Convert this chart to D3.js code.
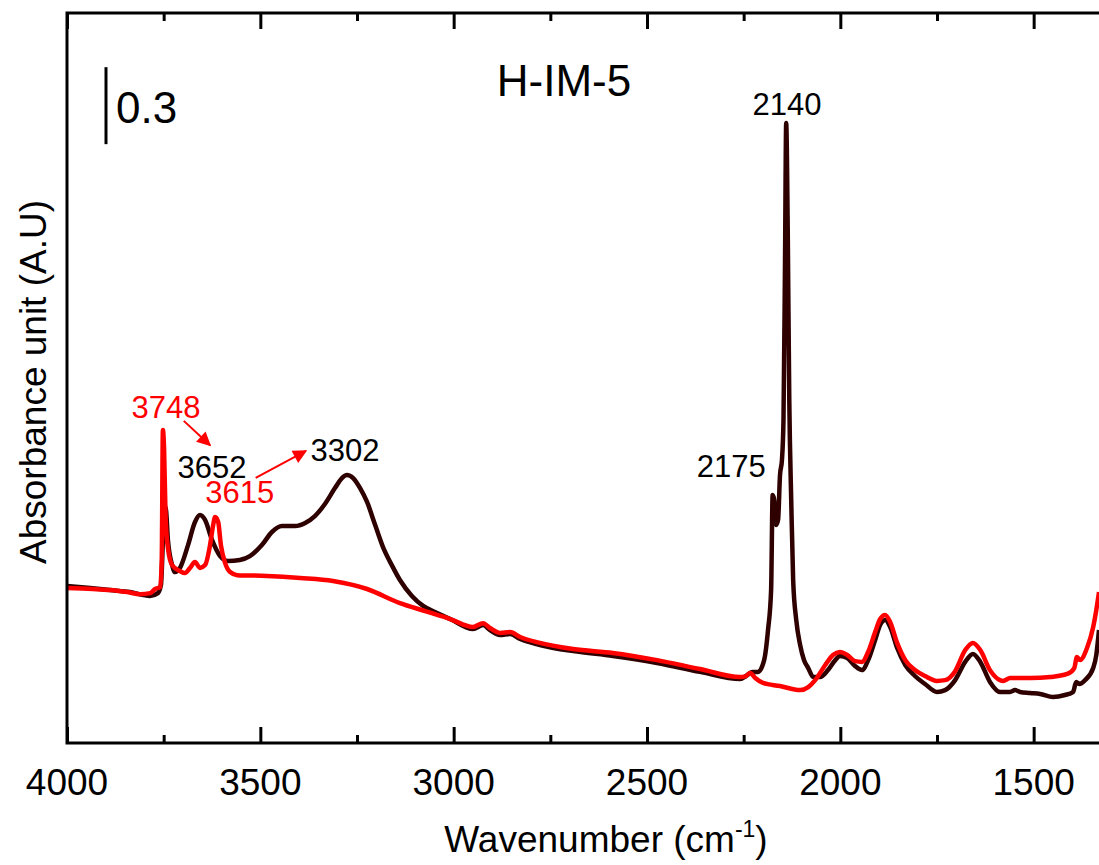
<!DOCTYPE html>
<html>
<head>
<meta charset="utf-8">
<script src="https://cdn.jsdelivr.net/npm/d3@7"></script>
<style>
  html, body { margin: 0; padding: 0; background: #fff; }
  svg { display: block; font-family: "Liberation Sans", Arial, sans-serif; }
</style>
</head>
<body>
<div id="chart"></div>
<script>
const width = 1099;
const height = 865;

// spectrum after CO adsorption (dark) — wavenumber (cm-1) / absorbance
const darkWn = [4000, 3940, 3889, 3837, 3785, 3765, 3757, 3752, 3749, 3744, 3739, 3728, 3721, 3708, 3687, 3669, 3656, 3643, 3625, 3604,
  3584, 3553, 3527, 3496, 3470, 3444, 3410, 3384, 3359, 3333, 3307, 3289, 3276, 3260, 3242, 3224, 3203, 3183, 3159, 3139,
  3108, 3079, 3043, 3009, 2950, 2924, 2906, 2880, 2854, 2828, 2777, 2691, 2588, 2474, 2363, 2259, 2244, 2228, 2213, 2197,
  2187, 2179, 2175, 2171, 2166, 2161, 2156, 2151, 2147, 2143, 2140, 2136, 2132, 2127, 2122, 2114, 2104, 2094, 2083, 2070,
  2052, 2032, 2013, 2001, 1982, 1962, 1944, 1928, 1910, 1897, 1884, 1871, 1853, 1832, 1807, 1781, 1750, 1729, 1703, 1677,
  1657, 1638, 1613, 1587, 1561, 1548, 1535, 1509, 1483, 1450, 1419, 1398, 1390, 1382, 1367, 1346, 1338, 1331];
const darkAbs = [0.612, 0.604, 0.596, 0.588, 0.573, 0.584, 0.616, 0.791, 0.927, 0.908, 0.791, 0.693, 0.666, 0.682, 0.771, 0.861, 0.888, 0.869, 0.791, 0.728,
  0.709, 0.713, 0.728, 0.771, 0.822, 0.845, 0.845, 0.857, 0.884, 0.931, 0.993, 1.032, 1.044, 1.032, 0.993, 0.939, 0.849, 0.764, 0.690, 0.635,
  0.573, 0.534, 0.506, 0.483, 0.444, 0.460, 0.440, 0.421, 0.425, 0.405, 0.382, 0.358, 0.339, 0.312, 0.277, 0.249, 0.261, 0.277, 0.277, 0.323,
  0.440, 0.596, 0.966, 0.947, 0.849, 0.869, 1.044, 1.102, 1.258, 1.882, 2.415, 1.998, 1.336, 0.947, 0.635, 0.479, 0.382, 0.323, 0.292, 0.257,
  0.257, 0.284, 0.323, 0.339, 0.331, 0.300, 0.284, 0.323, 0.401, 0.460, 0.479, 0.452, 0.370, 0.304, 0.261, 0.230, 0.199, 0.206, 0.245, 0.316,
  0.347, 0.316, 0.238, 0.199, 0.199, 0.206, 0.199, 0.195, 0.191, 0.179, 0.187, 0.199, 0.238, 0.230, 0.245, 0.292, 0.343, 0.440];

// activated sample (red)
const redWn = [4000, 3933, 3889, 3845, 3811, 3785, 3772, 3759, 3755, 3752, 3749, 3745, 3739, 3728, 3708, 3695, 3682, 3669, 3656, 3643,
  3630, 3622, 3617, 3609, 3602, 3591, 3578, 3560, 3483, 3397, 3312, 3224, 3139, 3074, 3009, 2950, 2924, 2906, 2880, 2854,
  2828, 2777, 2691, 2588, 2474, 2363, 2259, 2244, 2233, 2220, 2200, 2156, 2104, 2083, 2065, 2039, 2019, 2001, 1982, 1962,
  1944, 1928, 1910, 1897, 1884, 1871, 1853, 1832, 1807, 1781, 1750, 1729, 1703, 1677, 1657, 1638, 1613, 1587, 1579, 1561,
  1509, 1457, 1413, 1395, 1388, 1380, 1362, 1346, 1338, 1331];
const redAbs = [0.604, 0.600, 0.596, 0.588, 0.580, 0.584, 0.600, 0.608, 0.713, 1.219, 1.150, 0.880, 0.760, 0.693, 0.670, 0.662, 0.682, 0.705, 0.682, 0.693,
  0.771, 0.849, 0.880, 0.861, 0.771, 0.701, 0.666, 0.654, 0.651, 0.643, 0.631, 0.600, 0.545, 0.514, 0.483, 0.452, 0.467, 0.448, 0.429, 0.432,
  0.413, 0.390, 0.366, 0.351, 0.323, 0.288, 0.257, 0.261, 0.273, 0.253, 0.234, 0.222, 0.206, 0.218, 0.245, 0.304, 0.343, 0.355, 0.343, 0.319,
  0.316, 0.355, 0.432, 0.483, 0.499, 0.471, 0.390, 0.323, 0.284, 0.261, 0.242, 0.245, 0.280, 0.362, 0.390, 0.362, 0.284, 0.245, 0.242, 0.253,
  0.253, 0.257, 0.269, 0.292, 0.335, 0.323, 0.370, 0.452, 0.518, 0.588];

const majorTicks = [4000, 3500, 3000, 2500, 2000, 1500];
const minorTicks = [3750, 3250, 2750, 2250, 1750];

// peak labels: text, wavenumber anchor, absorbance anchor (baseline), colour
const peakLabels = [
  ["3748", 3744, 1.265, "#ff0000"],
  ["3652", 3625, 1.034, "#000000"],
  ["3615", 3553, 0.935, "#ff0000"],
  ["3302", 3281, 1.097, "#000000"],
  ["2175", 2282, 1.036, "#000000"],
  ["2140", 2138, 2.446, "#000000"]
];
// arrows: from [wn, abs] to [wn, abs]
const arrows = [
  [[3698, 1.255], [3630, 1.160]],
  [[3512, 1.033], [3382, 1.138]]
];

const margin = {left: 67, top: 13, bottom: 743, right: 1099};

const x = d3.scaleLinear().domain([4000, 1331]).range([margin.left, margin.right]);
const y = d3.scaleLinear().domain([0, 2.844]).range([margin.bottom, margin.top]);

const svg = d3.select("#chart").append("svg")
  .attr("width", width)
  .attr("height", height);

svg.append("defs").append("clipPath").attr("id", "plot")
  .append("rect")
  .attr("x", margin.left).attr("y", margin.top)
  .attr("width", margin.right - margin.left).attr("height", margin.bottom - margin.top);

svg.select("defs").append("marker")
  .attr("id", "head")
  .attr("viewBox", "0 0 10 10")
  .attr("refX", 9).attr("refY", 5)
  .attr("markerWidth", 20).attr("markerHeight", 14)
  .attr("markerUnits", "userSpaceOnUse")
  .attr("orient", "auto")
  .append("path")
  .attr("d", "M0,0 L10,5 L0,10 Z")
  .attr("fill", "#ff0000");

const line = d3.line()
  .x(d => x(d[0]))
  .y(d => y(d[1]))
  .curve(d3.curveMonotoneX);

const dark = darkWn.map((w, i) => [w, darkAbs[i]]);
const red = redWn.map((w, i) => [w, redAbs[i]]);

const plot = svg.append("g").attr("clip-path", "url(#plot)");

plot.append("path")
  .datum(dark)
  .attr("fill", "none")
  .attr("stroke", "#2e0000")
  .attr("stroke-width", 4.5)
  .attr("stroke-linejoin", "round")
  .attr("d", line);

plot.append("path")
  .datum(red)
  .attr("fill", "none")
  .attr("stroke", "#ff0000")
  .attr("stroke-width", 4.5)
  .attr("stroke-linejoin", "round")
  .attr("d", line);

// frame: left, top, bottom
svg.append("path")
  .attr("d", `M${margin.right},${margin.top}H${margin.left}V${margin.bottom}H${margin.right}`)
  .attr("fill", "none")
  .attr("stroke", "#000")
  .attr("stroke-width", 3);

// inward ticks on bottom and top
const bottomAxis = d3.axisTop(x).tickValues(majorTicks).tickSize(16).tickFormat("");
const bottomMinor = d3.axisTop(x).tickValues(minorTicks).tickSize(8).tickFormat("");
const topAxis = d3.axisBottom(x).tickValues(majorTicks).tickSize(16).tickFormat("");
const topMinor = d3.axisBottom(x).tickValues(minorTicks).tickSize(8).tickFormat("");

[[bottomAxis, margin.bottom], [bottomMinor, margin.bottom], [topAxis, margin.top], [topMinor, margin.top]].forEach(([ax, ty]) => {
  const g = svg.append("g").attr("transform", `translate(0,${ty})`).call(ax);
  g.select(".domain").remove();
  g.selectAll(".tick line").attr("stroke", "#000").attr("stroke-width", 3);
});

svg.append("g").selectAll("text")
  .data(majorTicks)
  .join("text")
  .attr("x", d => x(d))
  .attr("y", 795)
  .attr("text-anchor", "middle")
  .attr("font-size", 37)
  .attr("fill", "#000")
  .text(d => d);

// axis titles
const xt = svg.append("text")
  .attr("x", 606)
  .attr("y", 852)
  .attr("text-anchor", "middle")
  .attr("font-size", 37)
  .attr("fill", "#000");
xt.append("tspan").text("Wavenumber (cm");
xt.append("tspan").attr("dy", -15).attr("font-size", 23).text("-1");
xt.append("tspan").attr("dy", 15).text(")");

svg.append("text")
  .attr("transform", "translate(46,382) rotate(-90)")
  .attr("text-anchor", "middle")
  .attr("font-size", 37)
  .attr("fill", "#000")
  .text("Absorbance unit (A.U)");

// sample name
svg.append("text")
  .attr("x", 564)
  .attr("y", 96)
  .attr("text-anchor", "middle")
  .attr("font-size", 44)
  .attr("fill", "#000")
  .text("H-IM-5");

// 0.3 absorbance scale bar
svg.append("line")
  .attr("x1", 106).attr("x2", 106)
  .attr("y1", y(2.633)).attr("y2", y(2.633 - 0.3))
  .attr("stroke", "#000")
  .attr("stroke-width", 3);
svg.append("text")
  .attr("x", 116)
  .attr("y", 123)
  .attr("font-size", 44)
  .attr("fill", "#000")
  .text("0.3");

// peak labels
svg.append("g").selectAll("text")
  .data(peakLabels)
  .join("text")
  .attr("x", d => x(d[1]))
  .attr("y", d => y(d[2]))
  .attr("text-anchor", "middle")
  .attr("font-size", 31)
  .attr("fill", d => d[3])
  .text(d => d[0]);

svg.append("g").selectAll("line")
  .data(arrows)
  .join("line")
  .attr("x1", d => x(d[0][0])).attr("y1", d => y(d[0][1]))
  .attr("x2", d => x(d[1][0])).attr("y2", d => y(d[1][1]))
  .attr("stroke", "#ff0000")
  .attr("stroke-width", 2)
  .attr("marker-end", "url(#head)");
</script>
</body>
</html>
